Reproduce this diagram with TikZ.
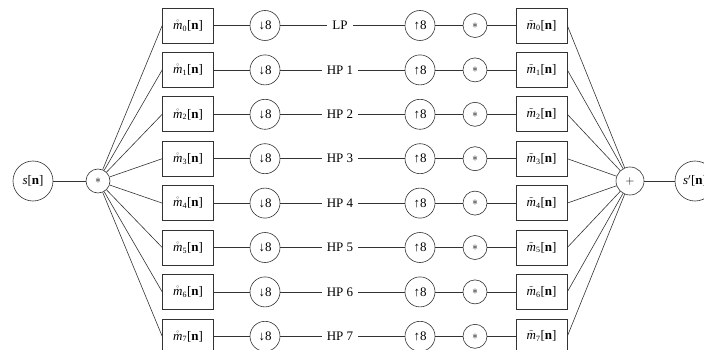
\documentclass[tikz,border=0pt]{standalone}
\usepackage{fontspec}
\setmainfont{Liberation Serif}
\newcommand{\mring}[1]{$\mathring{\hbox{\textit{m}}}_{\hbox{\footnotesize #1}}$[\textbf{n}]}
\newcommand{\mtil}[1]{$\tilde{\hbox{\textit{m}}}_{\hbox{\footnotesize #1}}$[\textbf{n}]}
\begin{document}
\begin{tikzpicture}[x=1pt,y=-1pt,
  every node/.style={font=\fontsize{13}{15}\selectfont},
  line/.style={draw=black!80, line width=0.6pt},
  fbox/.style={line, minimum width=51pt, minimum height=35pt, inner sep=0pt},
  bigc/.style={line, circle, minimum size=40pt, inner sep=0pt},
  midc/.style={line, circle, minimum size=30pt, inner sep=0pt},
  smallc/.style={line, circle, minimum size=24pt, inner sep=0pt},
  lab/.style={inner sep=5pt}]
\useasboundingbox (0,0) rectangle (704,350);
\node[bigc] (s) at (33,181) {\textit{s}[\textbf{n}]};
\node[smallc] (split) at (98,181) {$*$};
\node[smallc, minimum size=28pt] (sum) at (630,181) {$+$};
\node[bigc] (sp) at (695,181) {$\hbox{\textit{s}}'$[\textbf{n}]};
\draw[line] (s) -- (split);
\draw[line] (sum) -- (sp);
\foreach \i/\lbl in {0/LP,1/HP 1,2/HP 2,3/HP 3,4/HP 4,5/HP 5,6/HP 6,7/HP 7}{
  \pgfmathsetmacro{\yy}{25.5+44.4*\i}
  \node[fbox] (a\i) at (188,\yy) {\mring{\i}};
  \node[midc] (d\i) at (265,\yy) {↓8};
  \node[lab] (l\i) at (340,\yy) {\lbl};
  \node[midc] (u\i) at (420,\yy) {↑8};
  \node[smallc] (c\i) at (475,\yy) {$*$};
  \node[fbox] (b\i) at (541.5,\yy) {\mtil{\i}};
  \draw[line] (split) -- (a\i.west);
  \draw[line] (a\i) -- (d\i) -- (l\i) -- (u\i) -- (c\i) -- (b\i);
  \draw[line] (b\i.east) -- (sum);
}
\end{tikzpicture}
\end{document}
